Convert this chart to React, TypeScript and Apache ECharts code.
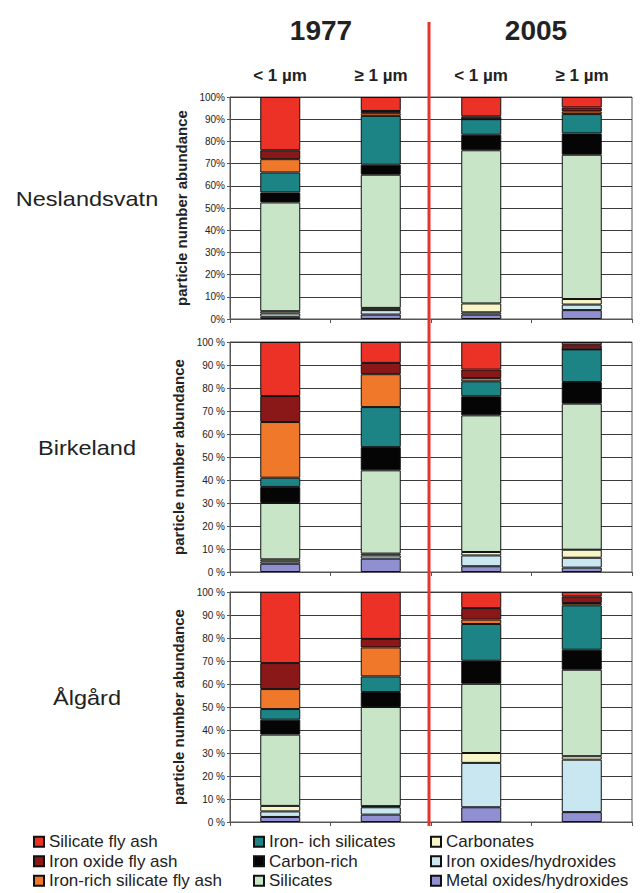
import React, { useEffect, useRef } from "react";
import * as echarts from "echarts";

// Order of values in each array: Neslandsvatn (4 bars), Birkeland (4 bars), Ålgård (4 bars)
// Bars per site: 1977 <1µm, 1977 ≥1µm, 2005 <1µm, 2005 ≥1µm
const sites = ["Neslandsvatn", "Birkeland", "Ålgård"];
const years = ["1977", "2005"];
const sizeClasses = ["< 1 µm", "≥ 1 µm", "< 1 µm", "≥ 1 µm"];
const categories = ["1977 <1", "1977 ≥1", "2005 <1", "2005 ≥1"];

const metalOxides = [1, 2, 2, 4, 3.6, 5.8, 2.5, 1.9, 2.2, 3.2, 6.4, 4.3];
const ironOxides = [1.5, 2, 1, 2.5, 1, 1.4, 4.7, 4.3, 2.4, 3.2, 19.3, 22.8];
const carbonates = [1, 1, 4, 2.5, 0.9, 0.8, 1.5, 3.5, 2.4, 0.5, 4.3, 1.5];
const silicates = [49, 60, 69, 65, 24.5, 36.2, 59.4, 63.5, 31, 43.1, 30.1, 37.6];
const carbonRich = [4.5, 4.5, 7, 9.6, 7, 10.1, 8.3, 9.4, 6.5, 6.5, 10, 8.7];
const ironRichSilicates = [9, 22, 7, 8.7, 4, 17.4, 6.5, 14.2, 4.6, 6.8, 16, 19.3];
const ironRichSilicateFlyAsh = [6, 1.2, 0, 1.2, 24.2, 14.3, 1.4, 0, 8.7, 12.6, 1.9, 1];
const ironOxideFlyAsh = [4, 1, 1.3, 1.8, 11.3, 4.9, 3.7, 1.8, 11.3, 3.7, 5, 2.9];
const silicateFlyAsh = [24, 6.3, 8.7, 4.7, 23.5, 9.1, 12, 1.4, 30.9, 20.4, 7, 1.9];

const seriesDefs = [
  { name: "Metal oxides/hydroxides", data: metalOxides, color: "#8F8FD2" },
  { name: "Iron oxides/hydroxides", data: ironOxides, color: "#C9E7F0" },
  { name: "Carbonates", data: carbonates, color: "#F8F5C6" },
  { name: "Silicates", data: silicates, color: "#C9E5C7" },
  { name: "Carbon-rich", data: carbonRich, color: "#050505" },
  { name: "Iron- ich silicates", data: ironRichSilicates, color: "#1D8486" },
  { name: "Iron-rich silicate fly ash", data: ironRichSilicateFlyAsh, color: "#F0782A" },
  { name: "Iron oxide fly ash", data: ironOxideFlyAsh, color: "#8A1818" },
  { name: "Silicate fly ash", data: silicateFlyAsh, color: "#EC3127" },
];

const legendCols = [
  ["Silicate fly ash", "Iron oxide fly ash", "Iron-rich silicate fly ash"],
  ["Iron- ich silicates", "Carbon-rich", "Silicates"],
  ["Carbonates", "Iron oxides/hydroxides", "Metal oxides/hydroxides"],
];

export default function App() {
  const ref = useRef<HTMLDivElement>(null);
  useEffect(() => {
    if (!ref.current) return;
    const chart = echarts.init(ref.current, null, { renderer: "svg" });
    const gridTops = [97, 342, 592];
    const gridHeights = [222, 230, 230];
    const font = "Arial, 'Liberation Sans', sans-serif";

    const grids = gridTops.map((t, i) => ({
      left: 230,
      width: 402,
      top: t,
      height: gridHeights[i],
      show: true,
      borderColor: "#555",
      borderWidth: 1,
      backgroundColor: "#fff",
    }));
    const xAxes = gridTops.map((_, i) => ({
      type: "category" as const,
      gridIndex: i,
      data: categories,
      axisLabel: { show: false },
      axisTick: { show: true, length: 4, lineStyle: { color: "#555" } },
      axisLine: { lineStyle: { color: "#555", width: 1 } },
    }));
    const yAxes = gridTops.map((_, i) => ({
      type: "value" as const,
      gridIndex: i,
      min: 0,
      max: 100,
      interval: 10,
      name: "particle number abundance",
      nameLocation: "middle" as const,
      nameGap: 36,
      nameTextStyle: { fontFamily: font, fontSize: 15, fontWeight: "bold", color: "#222" },
      axisLabel: {
        formatter: i === 0 ? "{value}%" : "{value} %",
        fontFamily: font,
        fontSize: 10,
        color: "#222",
        margin: 5,
      },
      axisTick: { show: true, length: 3, lineStyle: { color: "#555" } },
      axisLine: { show: true, lineStyle: { color: "#555" } },
      splitLine: { show: true, lineStyle: { color: "#3a3a3a", width: 1 } },
    }));

    const series: any[] = [];
    gridTops.forEach((_, gi) => {
      seriesDefs.forEach((s) => {
        series.push({
          name: s.name,
          type: "bar",
          stack: "g" + gi,
          xAxisIndex: gi,
          yAxisIndex: gi,
          barWidth: 40,
          data: s.data.slice(gi * 4, gi * 4 + 4),
          itemStyle: { color: s.color, borderColor: "#111", borderWidth: 1 },
        });
      });
    });

    const legendLefts = [33, 253, 430];
    const legends = legendCols.map((col, i) => ({
      data: col,
      orient: "vertical" as const,
      left: legendLefts[i],
      top: 833,
      height: 60,
      padding: 0,
      itemWidth: 10,
      itemHeight: 10,
      itemGap: 2,
      icon: "rect",
      selectedMode: false,
      textStyle: { fontFamily: font, fontSize: 17, lineHeight: 17.5, color: "#222" },
    }));

    const graphics: any[] = [];
    sites.forEach((s, i) => {
      graphics.push({
        type: "text",
        x: 87,
        y: gridTops[i] + gridHeights[i] / 2 - 9,
        scaleX: 1.12,
        style: { text: s, font: `21px ${font}`, fill: "#222", textAlign: "center", textVerticalAlign: "middle" },
      });
    });
    years.forEach((y, i) => {
      graphics.push({
        type: "text",
        x: i === 0 ? 321 : 536,
        y: 30,
        style: { text: y, font: `bold 28px ${font}`, fill: "#222", textAlign: "center", textVerticalAlign: "middle" },
      });
    });
    const subX = [280, 381, 481, 582];
    sizeClasses.forEach((c, i) => {
      graphics.push({
        type: "text",
        x: subX[i],
        y: 75,
        style: { text: c, font: `bold 17px ${font}`, fill: "#222", textAlign: "center", textVerticalAlign: "middle" },
      });
    });
    graphics.push({
      type: "line",
      z: 100,
      shape: { x1: 429, y1: 22, x2: 429, y2: 826 },
      style: { stroke: "#E8322C", lineWidth: 3 },
    });

    chart.setOption({
      animation: false,
      backgroundColor: "#fff",
      grid: grids,
      xAxis: xAxes,
      yAxis: yAxes,
      series,
      legend: legends,
      graphic: graphics,
    });
    return () => chart.dispose();
  }, []);
  return <div ref={ref} style={{ position: "fixed", left: 0, top: 0, width: 641, height: 893 }} />;
}
